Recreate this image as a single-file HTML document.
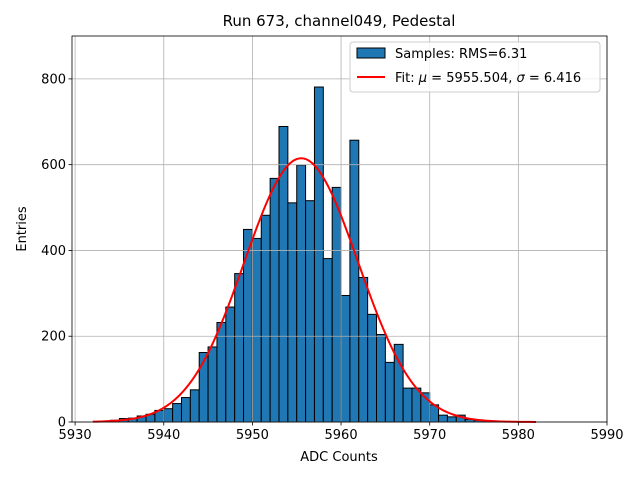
<!DOCTYPE html>
<html><head><meta charset="utf-8"><style>
body{margin:0;background:#fff;font-family:"Liberation Sans","DejaVu Sans",sans-serif;}
svg text{font-family:"DejaVu Sans","Liberation Sans",sans-serif;}
</style></head><body>
<svg id="chart" width="640" height="480" xmlns="http://www.w3.org/2000/svg"></svg>
<script>
const binStarts=[5933,5934,5935,5936,5937,5938,5939,5940,5941,5942,5943,5944,5945,5946,5947,5948,5949,5950,5951,5952,5953,5954,5955,5956,5957,5958,5959,5960,5961,5962,5963,5964,5965,5966,5967,5968,5969,5970,5971,5972,5973,5974,5975,5976,5977];
const counts=[2,4,8,9,14,18,27,31,43,57,75,162,175,232,268,346,449,428,482,568,689,511,599,516,781,381,547,295,657,337,251,204,139,181,79,79,68,40,16,12,16,6,4,2,1];
const fitMu=5955.504, fitSigma=6.416, fitAmp=615;
const xTicks=[5930,5940,5950,5960,5970,5980,5990];
const yTicks=[0,200,400,600,800];
const L=72,R=607,T=36,B=422, xmin=5929.65,xmax=5990,ymin=0,ymax=900;
const sx=v=>L+(v-xmin)/(xmax-xmin)*(R-L);
const sy=v=>B-(v-ymin)/(ymax-ymin)*(B-T);
const svg=document.getElementById('chart');
const NS='http://www.w3.org/2000/svg';
function mk(tag,attrs,parent){const e=document.createElementNS(NS,tag);for(const k in attrs)e.setAttribute(k,attrs[k]);(parent||svg).appendChild(e);return e;}
// bars
binStarts.forEach((b,i)=>{const r=mk('rect',{x:sx(b),y:sy(counts[i]),width:sx(b+1)-sx(b),height:sy(0)-sy(counts[i]),fill:'#1f77b4',stroke:'#000','stroke-width':1});

});
// grid (drawn above bars like the reference)
xTicks.forEach(t=>{const l=mk('line',{x1:sx(t),x2:sx(t),y1:T,y2:B,stroke:'#b0b0b0','stroke-width':0.8});

});
yTicks.forEach(t=>{const l=mk('line',{x1:L,x2:R,y1:sy(t),y2:sy(t),stroke:'#b0b0b0','stroke-width':0.8});

});
// fit
let d='';for(let x=5932;x<=5982.001;x+=0.25){const y=fitAmp*Math.exp(-0.5*Math.pow((x-fitMu)/fitSigma,2));d+=(d?'L':'M')+sx(x).toFixed(2)+','+sy(y).toFixed(2);}
const fp=mk('path',{d:d,fill:'none',stroke:'#ff0000','stroke-width':2});


// frame
const fr=mk('rect',{x:L,y:T,width:R-L,height:B-T,fill:'none',stroke:'#000','stroke-width':0.8});


// ticks
xTicks.forEach(t=>{mk('line',{x1:sx(t),x2:sx(t),y1:B,y2:B+3.5,stroke:'#000','stroke-width':0.8});
const tx=mk('text',{x:sx(t),y:B+17,'text-anchor':'middle','font-size':13});tx.textContent=t;

});
yTicks.forEach(t=>{mk('line',{x1:L-3.5,x2:L,y1:sy(t),y2:sy(t),stroke:'#000','stroke-width':0.8});
const tx=mk('text',{x:L-6,y:sy(t)+4.5,'text-anchor':'end','font-size':13});tx.textContent=t;

});
</script>
<svg width="640" height="480" style="position:absolute;left:0;top:0" xmlns="http://www.w3.org/2000/svg">
<text x="339" y="26" text-anchor="middle" font-size="15">Run 673, channel049, Pedestal</text>
<text x="339" y="461" text-anchor="middle" font-size="13">ADC Counts</text>
<text x="26" y="229" text-anchor="middle" font-size="13" transform="rotate(-90 26 229)">Entries</text>
<g>
<rect x="350" y="42" width="250" height="50" rx="3" fill="#fff" fill-opacity="0.8" stroke="#ccc"/>
<rect x="357" y="48" width="28" height="10" fill="#1f77b4" stroke="#000"/>
<text x="395" y="58" font-size="13">Samples: RMS=6.31</text>
<line x1="357" x2="385" y1="77" y2="77" stroke="#ff0000" stroke-width="2"/>
<text x="395" y="82" font-size="13">Fit: <tspan font-style="italic">μ</tspan> = 5955.504, <tspan font-style="italic">σ</tspan> = 6.416</text>
</g>
</svg>
</body></html>
